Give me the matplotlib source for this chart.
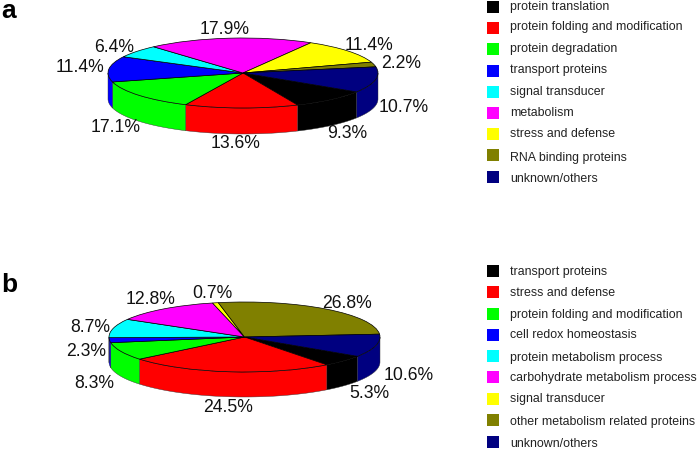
import numpy as np
import matplotlib
matplotlib.use('Agg')
from matplotlib import pyplot as plt
from matplotlib.patches import Rectangle

plt.rcParams['font.family'] = ['Liberation Sans', 'DejaVu Sans']

W, H = 697, 449

colors = ['#000000', '#ff0000', '#00ff00', '#0000ff', '#00ffff', '#ff00ff', '#ffff00', '#808000', '#000080']

# panel a, the wedges as drawn in the picture do not quite follow the printed numbers
names_a = ['protein translation', 'protein folding and modification', 'protein degradation',
           'transport proteins', 'signal transducer', 'metabolism', 'stress and defense',
           'RNA binding proteins', 'unknown/others']
printed_a = [9.3, 13.6, 17.1, 11.4, 6.4, 17.9, 11.4, 2.2, 10.7]
shares_a = [9.3, 13.6, 13.9, 11.8, 5.8, 19.9, 11.6, 2.2, 11.9]

names_b = ['transport proteins', 'stress and defense', 'protein folding and modification',
           'cell redox homeostasis', 'protein metabolism process', 'carbohydrate metabolism process',
           'signal transducer', 'other metabolism related proteins', 'unknown/others']
printed_b = [5.3, 24.5, 8.3, 2.3, 8.7, 12.8, 0.7, 26.8, 10.6]
shares_b = printed_b

# label centres in pixels
label_xy_a = [(347, 133), (236, 143), (116, 127), (80, 68), (114, 47), (225, 30), (369, 46), (401, 63), (404, 107)]
label_xy_b = [(369, 394), (228, 408), (94, 383), (86, 351), (90, 328), (151, 300), (212, 293), (347, 303), (409, 375)]

# legend rows do not sit evenly in the original
legend_y_a = [7, 28, 49, 71, 92, 113, 134, 155, 177]
legend_y_b = [271, 292, 314, 335, 356, 377, 399, 420, 442]
base_y_a = [10, 30, 52, 73, 95, 116, 137, 161, 182]
base_y_b = [275, 296, 318, 338, 361, 381, 402, 425, 447]

fig = plt.figure(figsize=(W / 100, H / 100), dpi=100)


def pie3(shares, cx, cy, rx, ry, depth, start):
    ax = fig.add_axes([(cx - rx) / W, 1 - (cy + ry) / H, 2 * rx / W, 2 * ry / H])
    wedges, _ = ax.pie(shares, colors=colors, startangle=start, counterclock=False, radius=1,
                       wedgeprops=dict(edgecolor='k', linewidth=0.5))
    ax.set_aspect('auto')
    ax.set_xlim(-1, 1)
    ax.set_ylim(-1, 1)
    d = depth / ry
    for w, c in zip(wedges, colors):
        # only the front half of the disc shows its side
        for base in (-540, -180):
            lo = max(w.theta1, base)
            hi = min(w.theta2, base + 180)
            if lo >= hi:
                continue
            t = np.radians(np.linspace(lo, hi, 60))
            xs = np.r_[np.cos(t), np.cos(t)[::-1]]
            ys = np.r_[np.sin(t), np.sin(t)[::-1] - d]
            ax.fill(xs, ys, facecolor=c, edgecolor='#333333', linewidth=0.3, clip_on=False, zorder=0)
    return ax


pie3(shares_a, 243, 73, 135, 35, 26, -32.7)
pie3(shares_b, 244.5, 337, 135.5, 35, 25, -33.5)

over = fig.add_axes([0, 0, 1, 1], zorder=5)
over.set_xlim(0, W)
over.set_ylim(H, 0)
over.axis('off')
over.patch.set_alpha(0)

for val, xy in zip(printed_a + printed_b, label_xy_a + label_xy_b):
    over.text(xy[0], xy[1], '%.1f%%' % val, fontsize=12.7, color='#111111', ha='center', va='center')

for names, ys, bs in ((names_a, legend_y_a, base_y_a), (names_b, legend_y_b, base_y_b)):
    for n, y, b, c in zip(names, ys, bs, colors):
        over.add_patch(Rectangle((487, y - 6), 12, 12, facecolor=c, edgecolor='none'))
        over.text(510, b, n, fontsize=8.9, color='#222222', ha='left', va='baseline')

over.text(1, 18, 'a', fontsize=19, fontweight='bold', ha='left', va='baseline')
over.text(1, 292, 'b', fontsize=19, fontweight='bold', ha='left', va='baseline')

fig.savefig('out.png', dpi=100)
